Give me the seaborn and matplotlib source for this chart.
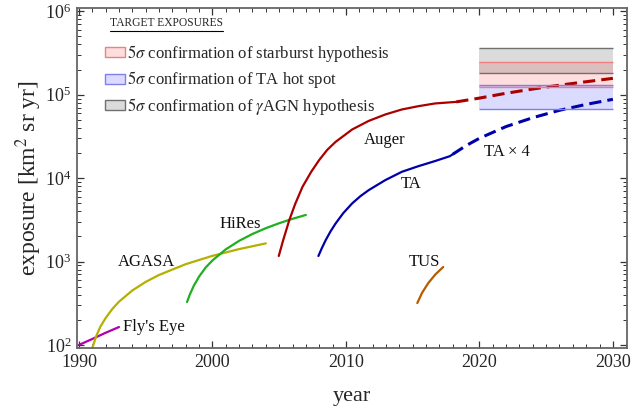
import numpy as np
import pandas as pd
import matplotlib
matplotlib.use("Agg")
import matplotlib.pyplot as plt
import matplotlib.ticker as mticker
from matplotlib.patches import Patch
import seaborn as sns

# ---- data ----
flyseye_year = [1990.0, 1991.0, 1992.0, 1993.0]
flyseye_exp = [100, 118, 140, 164]

agasa_year = [1991.0, 1991.3, 1991.6, 1992.0, 1992.5, 1993.0, 1994.0, 1995.0, 1996.0, 1998.0, 2000.0, 2002.0, 2004.0]
agasa_exp = [92, 128, 165, 210, 270, 330, 450, 570, 690, 930, 1170, 1410, 1650]

hires_year = [1998.1, 1998.3, 1998.6, 1999.0, 1999.5, 2000.0, 2001.0, 2002.0, 2003.0, 2004.0, 2005.0, 2006.0, 2007.0]
hires_exp = [327, 400, 510, 660, 850, 1030, 1400, 1770, 2140, 2510, 2880, 3250, 3620]

auger_year = [2004.97, 2005.3, 2005.76, 2006.2, 2006.75, 2007.4, 2007.99, 2008.6, 2009.23, 2010.47,
              2011.71, 2012.95, 2014.19, 2015.43, 2016.67, 2018.27]
auger_exp = [1165, 1800, 3140, 4900, 7870, 11900, 16400, 21800, 27200, 38300,
             48500, 57900, 66500, 72800, 78500, 82000]
auger_fut_year = [2018.27, 2020.0, 2022.0, 2024.0, 2026.0, 2028.0, 2030.0]
auger_fut_exp = [82000, 91000, 104000, 117000, 130000, 143000, 157000]

ta_year = [2007.94, 2008.2, 2008.49, 2008.85, 2009.23, 2009.8, 2010.47, 2011.1, 2011.71, 2012.95,
           2014.19, 2015.43, 2016.67, 2017.78, 2018.0]
ta_exp = [1165, 1450, 1810, 2300, 2860, 3800, 4980, 6100, 7180, 9460,
          11900, 13900, 16000, 18300, 19300]
ta4_year = [2018.0, 2019.0, 2020.0, 2022.0, 2024.0, 2026.0, 2028.0, 2030.0]
ta4_exp = [19300, 24500, 30000, 41500, 53000, 65000, 76500, 88000]

tus_year = [2015.35, 2015.7, 2016.17, 2016.7, 2017.29]
tus_exp = [318, 420, 552, 700, 860]

band_years = [2020, 2030]
band_labels = [r"$5\sigma$ confirmation of starburst hypothesis",
               r"$5\sigma$ confirmation of TA hot spot",
               r"$5\sigma$ confirmation of $\gamma$AGN hypothesis"]
band_lo = [125000, 67000, 180000]
band_hi = [245000, 130000, 360000]

# ---- style ----
sns.set_style("ticks")
plt.rcParams["font.family"] = ["Liberation Serif", "DejaVu Serif"]
plt.rcParams["mathtext.fontset"] = "stix"

fig = plt.figure(figsize=(6.41, 4.07), dpi=100)
ax = fig.add_axes([0.120, 0.145, 0.858, 0.835])

lw = 1.6
curves = [
    (flyseye_year, flyseye_exp, "#b000b0", "-", lw),
    (agasa_year, agasa_exp, "#b5b000", "-", lw),
    (hires_year, hires_exp, "#1faf1f", "-", lw),
    (auger_year, auger_exp, "#aa0000", "-", lw),
    (auger_fut_year, auger_fut_exp, "#aa0000", (0, (4, 2)), 2.2),
    (ta_year, ta_exp, "#0000aa", "-", lw),
    (ta4_year, ta4_exp, "#0000aa", (0, (4, 2)), 2.2),
    (tus_year, tus_exp, "#b85a00", "-", lw),
]
for xs, ys, c, ls, w in curves:
    sns.lineplot(x=xs, y=ys, color=c, linestyle=ls, linewidth=w, ax=ax,
                 sort=False, estimator=None)

band_face = [(1, 0, 0, 0.13), (0, 0, 1, 0.14), (0, 0, 0, 0.14)]
band_edge = ["#ee8080", "#7f7fee", "#707070"]
for lo, hi, fc, ec in zip(band_lo, band_hi, band_face, band_edge):
    ax.fill_between(band_years, [lo, lo], [hi, hi], color=fc, linewidth=0)
    ax.hlines([lo, hi], band_years[0], band_years[1], color=ec, linewidth=1.0)

ax.set_yscale("log")
ax.set_xlim(1989.85, 2031.05)
ax.set_ylim(92, 1.09e6)
ax.xaxis.set_major_locator(mticker.MultipleLocator(10))
ax.xaxis.set_minor_locator(mticker.MultipleLocator(1))
ax.yaxis.set_major_locator(mticker.LogLocator(base=10, numticks=10))
ax.yaxis.set_minor_locator(mticker.LogLocator(base=10, subs=np.arange(2, 10), numticks=20))
ax.yaxis.set_minor_formatter(mticker.NullFormatter())

spine_c = "#666666"
for s in ax.spines.values():
    s.set_visible(True)
    s.set_color(spine_c)
    s.set_linewidth(1.3)
ax.tick_params(which="both", direction="in", top=True, right=True, color="#333333",
               labelsize=13, pad=4)
ax.tick_params(which="major", length=5, width=0.9)
ax.tick_params(which="minor", length=3, width=0.7)

ax.set_xlabel("year", fontsize=16, labelpad=12)
ax.set_ylabel(r"exposure [km$^2$ sr yr]", fontsize=17, labelpad=1)

tk = dict(fontsize=12, color="#111111")
ax.text(1993.27, 164, "Fly's Eye", ha="left", va="center", **tk)
ax.text(1995.05, 985, "AGASA", ha="center", va="center", **tk)
ax.text(2002.05, 2800, "HiRes", ha="center", va="center", **tk)
ax.text(2012.9, 28500, "Auger", ha="center", va="center", **tk)
ax.text(2014.9, 8480, "TA", ha="center", va="center", **tk)
ax.text(2015.87, 985, "TUS", ha="center", va="center", **tk)
ax.text(2022.1, 20400, "TA × 4", ha="center", va="center", **tk)

# legend
handles = [Patch(facecolor=fc, edgecolor=ec, linewidth=1.0)
           for fc, ec in zip(band_face, band_edge)]
ax.legend(handles, band_labels, loc="upper left", bbox_to_anchor=(0.051, 0.898),
          frameon=False, fontsize=12, handlelength=1.2, handleheight=0.55,
          handletextpad=0.15, labelspacing=0.34, borderaxespad=0, borderpad=0)
ax.text(0.162, 0.956, "TARGET EXPOSURES", transform=ax.transAxes, fontsize=8.3,
        ha="center", va="center")
ax.plot([0.061, 0.265], [0.933, 0.933], transform=ax.transAxes, color="black",
        linewidth=0.8)

fig.savefig("out.png", dpi=100)
